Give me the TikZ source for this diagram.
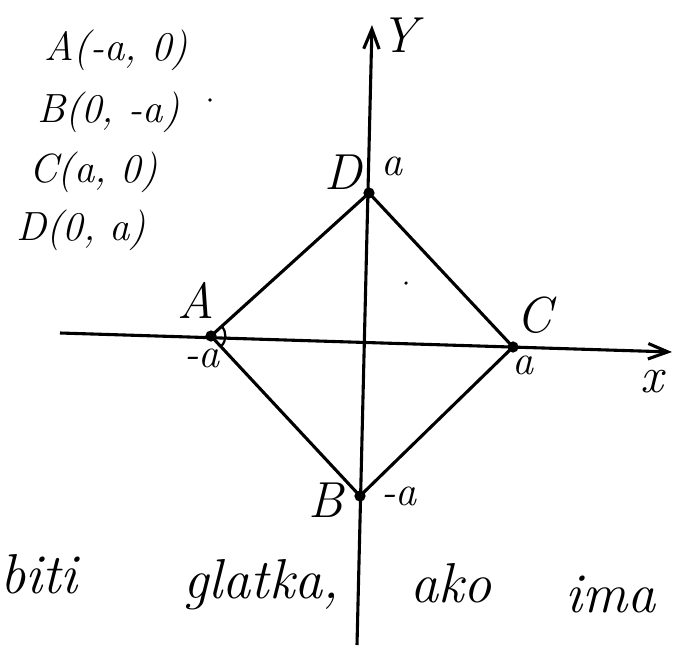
\documentclass[tikz,border=0pt]{standalone}
\usetikzlibrary{arrows.meta}

\begin{document}
\begin{tikzpicture}[x=0.025cm,y=-0.025cm,line width=2.2pt,
  vertex/.style={circle,fill,inner sep=0pt,minimum size=8pt},
  speck/.style={circle,fill,inner sep=0pt,minimum size=2.5pt},
  ptlabel/.style={font=\fontsize{36}{42}\selectfont\itshape},
  ticklabel/.style={font=\fontsize{30}{36}\selectfont\itshape},
  listlabel/.style={anchor=west,font=\fontsize{29}{34}\selectfont\itshape},
  word/.style={anchor=base west,font=\fontsize{40}{48}\selectfont\itshape},
  axis/.style={-{Straight Barb[length=14pt,width=11pt]}}]
  \useasboundingbox (0,0) rectangle (676,651);
  % axes
  \coordinate (xl) at (60,333);
  \coordinate (xr) at (672,352);
  \coordinate (yb) at (357,645);
  \coordinate (yt) at (372,25);
  \draw[axis] (xl) -- (xr);
  \draw[axis] (yb) -- (yt);
  % square
  \node[vertex] (A) at (211,336) {};
  \node[vertex] (B) at (360,496) {};
  \node[vertex] (C) at (513,347) {};
  \node[vertex] (D) at (369,193) {};
  \draw (A.center) -- (D.center) -- (C.center) -- (B.center) -- cycle;
  \draw[line width=1.6pt] ([shift={(42:0.36cm)}]A.center) arc[start angle=42,end angle=-45,radius=0.36cm];
  % labels
  \node[ptlabel] (lA) at (196,300) {A};
  \node[ticklabel] (lAa) at (202,358) {-a};
  \node[ptlabel] (lD) at (343,172) {D};
  \node[ticklabel] (lDa) at (392,166) {a};
  \node[ptlabel] (lC) at (534,315) {C};
  \node[ticklabel] (lCa) at (523,365) {a};
  \node[ptlabel] (lx) at (652,382) {x};
  \node[ptlabel] (lY) at (399,35) {Y};
  \node[ptlabel] (lB) at (326,500) {B};
  \node[ticklabel] (lBa) at (399,496) {-a};
  % points list
  \node[listlabel] (cA) at (38,50) {A(-a, 0)};
  \node[listlabel] (cB) at (31,112) {B(0, -a)};
  \node[listlabel] (cC) at (23,172) {C(a, 0)};
  \node[listlabel] (cD) at (10,230) {D(0, a)};
  \node[speck] (s1) at (210,100) {};
  \node[speck] (s2) at (406,283) {};
  % text line
  \node[word] (w1) at (-6,593) {biti};
  \node[word] (w2) at (177,598) {glatka,};
  \node[word] (w3) at (404,602) {ako};
  \node[word] (w4) at (559,612) {ima};
\end{tikzpicture}
\end{document}
